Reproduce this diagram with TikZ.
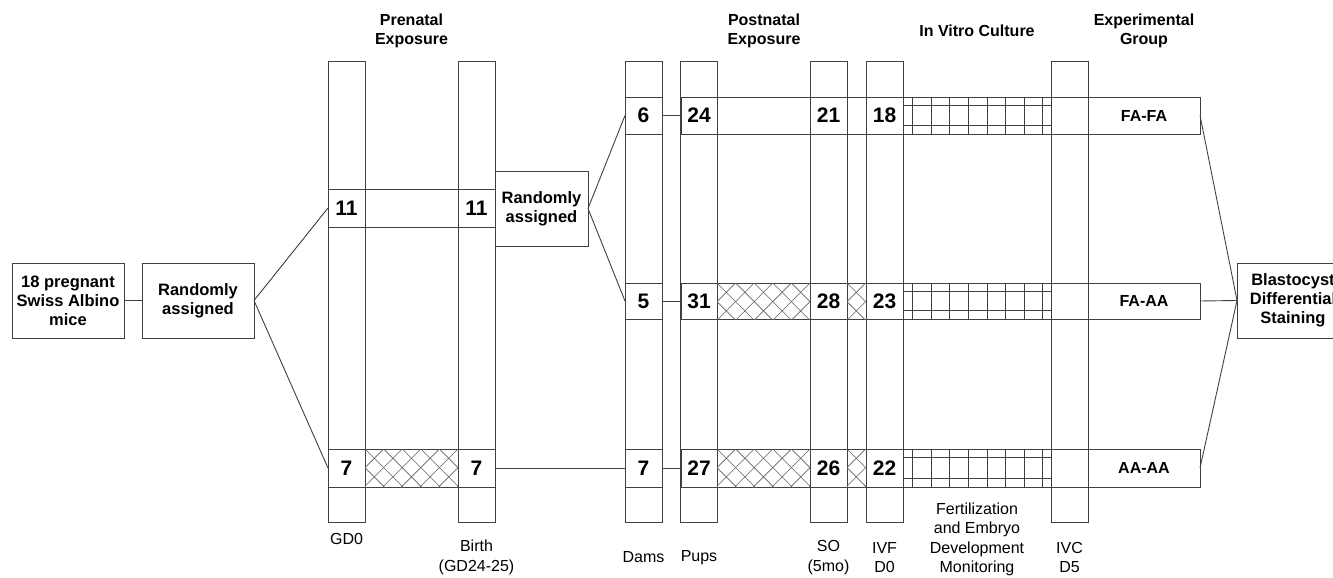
\documentclass[tikz,border=0pt]{standalone}
\usepackage{fontspec}
\setmainfont{Liberation Sans}
\begin{document}
\begin{tikzpicture}[x=1pt,y=-1pt,
  ln/.style={draw=black!75, line width=0.9pt},
  hl/.style={draw=black!62, line width=0.6pt},
  colbox/.style={ln, minimum width=37, minimum height=461, inner sep=0, outer sep=0},
  rowbox/.style={ln, minimum height=37, inner sep=0, outer sep=0},
  cell/.style={minimum width=37, minimum height=37, inner sep=0, outer sep=0,
               font=\fontsize{21}{24}\selectfont\bfseries},
  box/.style={ln, fill=white, minimum width=112, minimum height=75, inner sep=0, outer sep=0,
              align=center, font=\fontsize{16.5}{19}\selectfont\bfseries},
  head/.style={align=center, font=\fontsize{16}{19}\selectfont\bfseries},
  grp/.style={rowbox, minimum width=112, font=\fontsize{16}{19}\selectfont\bfseries},
  sub/.style={align=center, font=\fontsize{16}{19.5}\selectfont},
]
\useasboundingbox (0,0) rectangle (1333,578);
\clip (0,0) rectangle (1333,578);

% time-point columns
\foreach \n/\x in {gd0/346.5, birth/476.5, dams/643.5, pups/699, so/828.5, ivf/884.5, ivc/1069.5}
  \node[colbox] (\n) at (\x,291.5) {};

% prenatal group rows
\node[rowbox, minimum width=167, minimum height=38] (preA) at (411.5,208) {};
\node[rowbox, minimum width=167, minimum height=38] (preB) at (411.5,468) {};
% postnatal group rows
\node[rowbox, minimum width=519] (postA) at (940.5,115.5) {};
\node[rowbox, minimum width=519, minimum height=36] (postB) at (940.5,301) {};
\node[rowbox, minimum width=519, minimum height=38] (postC) at (940.5,468) {};
% dams cells
\node[rowbox, minimum width=37] (dA) at (643.5,115.5) {};
\node[rowbox, minimum width=37, minimum height=36] (dB) at (643.5,301) {};
\node[rowbox, minimum width=37, minimum height=38] (dC) at (643.5,468) {};

% cross-hatched exposure periods
\newcommand{\hatchband}[4]{%
  \begin{scope}
    \clip (#1,#2) rectangle (#3,#4);
    \foreach \k in {-3,...,8} {
      \draw[hl] ({#1+\k*18.6},#2) -- ++(40,40);
      \draw[hl] ({#1+\k*18.6},#2) -- ++(-40,40);
    }
  \end{scope}}
\hatchband{365}{449}{458}{487}
\hatchband{717}{283}{810}{319}
\hatchband{847}{283}{866}{319}
\hatchband{717}{449}{810}{487}
\hatchband{847}{449}{866}{487}

% in vitro culture grids
\newcommand{\culturegrid}[2]{%
  \draw[ln] (903,{#1+8}) -- (1051,{#1+8});
  \draw[ln] (903,{#2-9}) -- (1051,{#2-9});
  \foreach \k in {0,...,7}
    \draw[ln] ({912.7+\k*18.6},#1) -- ({912.7+\k*18.6},#2);}
\culturegrid{97}{134}
\culturegrid{283}{319}
\culturegrid{449}{487}

% counts
\node[cell, minimum height=38] (g11) at (346.5,208) {11};
\node[cell, minimum height=38] (b11) at (476.5,208) {11};
\node[cell, minimum height=38] (g7)  at (346.5,468) {7};
\node[cell, minimum height=38] (b7)  at (476.5,468) {7};

\node[cell] (d6)  at (643.5,115.5) {6};
\node[cell] (p24) at (699,115.5) {24};
\node[cell] (s21) at (828.5,115.5) {21};
\node[cell] (i18) at (884.5,115.5) {18};

\node[cell, minimum height=36] (d5)  at (643.5,301) {5};
\node[cell, minimum height=36] (p31) at (699,301) {31};
\node[cell, minimum height=36] (s28) at (828.5,301) {28};
\node[cell, minimum height=36] (i23) at (884.5,301) {23};

\node[cell, minimum height=38] (d7)  at (643.5,468) {7};
\node[cell, minimum height=38] (p27) at (699,468) {27};
\node[cell, minimum height=38] (s26) at (828.5,468) {26};
\node[cell, minimum height=38] (i22) at (884.5,468) {22};

% experimental groups
\node[grp] (fafa) at (1144,115.5) {FA-FA};
\node[grp, minimum height=36] (faaa) at (1144,301) {FA-AA};
\node[grp, minimum height=38] (aaaa) at (1144,468) {AA-AA};

% process boxes
\node[box] (mice)  at (68,300.5)  {18 pregnant\\Swiss Albino\\mice};
\node[box] (rand1) at (198,300.5) {Randomly\\assigned};
\node[box, minimum width=93] (rand2) at (541.5,208.5) {Randomly\\assigned};
\node[box] (blast) at (1293,300.5) {Blastocyst\\Differential\\Staining};

% connectors
\draw[ln] (mice.east) -- (rand1.west);
\draw[ln] (rand1.east) -- (g11.west);
\draw[ln] (rand1.east) -- (g7.west);
\draw[ln] (rand2.east) -- (d6.west);
\draw[ln] (rand2.east) -- (d5.west);
\draw[ln] (b7.east) -- (d7.west);
\draw[ln] (d6.east) -- (p24.west);
\draw[ln] (d5.east) -- (p31.west);
\draw[ln] (d7.east) -- (p27.west);
\draw[ln] (fafa.east) -- (blast.west);
\draw[ln] (faaa.east) -- (blast.west);
\draw[ln] (aaaa.east) -- (blast.west);

% headings
\node[head] (hpre)  at (411.5,30.5) {Prenatal\\Exposure};
\node[head] (hpost) at (764,30.5)   {Postnatal\\Exposure};
\node[head] (hivc)  at (977,31)     {In Vitro Culture};
\node[head] (hgrp)  at (1144,30.5)  {Experimental\\Group};

% time-point labels
\node[sub] (lgd0)   at (346.5,539) {GD0};
\node[sub] (lbirth) at (476.5,557.5) {Birth\\(GD24-25)};
\node[sub] (ldams)  at (643.5,557.5) {Dams};
\node[sub] (lpups)  at (699,557.5) {Pups};
\node[sub] (lso)    at (828.5,557.5) {SO\\(5mo)};
\node[sub] (livf)   at (884.5,557.5) {IVF\\D0};
\node[sub] (lfert)  at (977,539.5) {Fertilization\\and Embryo\\Development\\Monitoring};
\node[sub] (livc)   at (1069.5,557.5) {IVC\\D5};
\end{tikzpicture}
\end{document}
